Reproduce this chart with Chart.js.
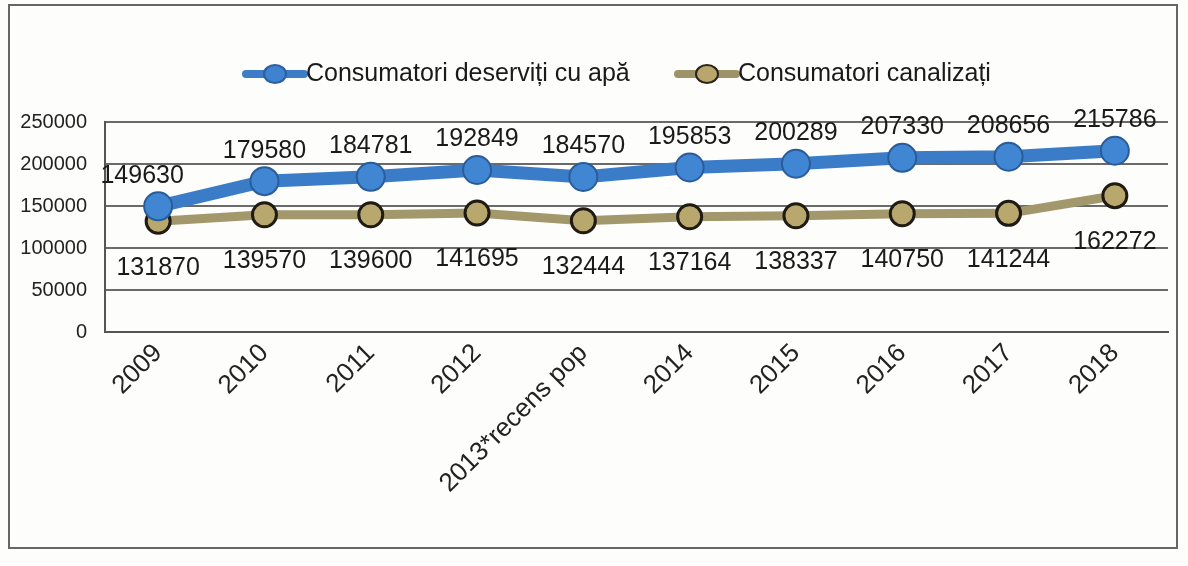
<!DOCTYPE html>
<html>
<head>
<meta charset="utf-8">
<script src="https://cdn.jsdelivr.net/npm/chart.js"></script>
<style>
  html, body { margin: 0; padding: 0; background: #fdfdfb; }
  #wrap { position: relative; width: 1188px; height: 566px; }
  #frame { position: absolute; left: 8px; top: 4px; width: 1170px; height: 545px;
           border: 2px solid #666; box-sizing: border-box; }
</style>
</head>
<body>
<div id="wrap">
  <div id="frame"></div>
  <canvas id="grafic" width="1188" height="566"></canvas>
</div>
<script>
// ---------- date ----------
const ani = ["2009", "2010", "2011", "2012", "2013*recens pop", "2014", "2015", "2016", "2017", "2018"];
const deserviti = [149630, 179580, 184781, 192849, 184570, 195853, 200289, 207330, 208656, 215786];
const canalizati = [131870, 139570, 139600, 141695, 132444, 137164, 138337, 140750, 141244, 162272];
const numeSerii = ["Consumatori deserviți cu apă", "Consumatori canalizați"];
const yTicks = [0, 50000, 100000, 150000, 200000, 250000];

const FONT = "'Liberation Sans', Arial, sans-serif";

// etichete cu valori (deasupra pentru albastru, dedesubt pentru bej)
const eticheteValori = {
  id: "eticheteValori",
  afterDatasetsDraw(chart) {
    const c = chart.ctx;
    c.save();
    c.font = "25px " + FONT;
    c.fillStyle = "#1a1a1a";
    c.textAlign = "center";
    chart.data.datasets.forEach((ds, i) => {
      const meta = chart.getDatasetMeta(i);
      meta.data.forEach((pt, j) => {
        if (i === 0) {
          c.textBaseline = "bottom";
          c.fillText(ds.data[j], pt.x - (j === 0 ? 16 : 0), pt.y - 18);
        } else {
          c.textBaseline = "top";
          c.fillText(ds.data[j], pt.x, pt.y + 34);
        }
      });
    });
    c.restore();
  }
};

// legenda desenata manual (linie groasa cu cerc)
const legendaSus = {
  id: "legendaSus",
  afterDraw(chart) {
    const c = chart.ctx;
    const items = [
      { x: 246, text: numeSerii[0], line: "#3d7cc6", fill: "#3f82cf", border: "#2b5f9e" },
      { x: 678, text: numeSerii[1], line: "#9e9268", fill: "#b8a66c", border: "#2a2418" }
    ];
    c.save();
    c.font = "25px " + FONT;
    c.textBaseline = "middle";
    items.forEach(it => {
      const y = 74;
      c.strokeStyle = it.line;
      c.lineWidth = 8;
      c.lineCap = "round";
      c.beginPath();
      c.moveTo(it.x, y);
      c.lineTo(it.x + 58, y);
      c.stroke();
      c.beginPath();
      c.ellipse(it.x + 29, y, 11, 9, 0, 0, Math.PI * 2);
      c.fillStyle = it.fill;
      c.fill();
      c.lineWidth = 2;
      c.strokeStyle = it.border;
      c.stroke();
      c.fillStyle = "#1a1a1a";
      c.textAlign = "left";
      c.fillText(it.text, it.x + 60, y);
    });
    c.restore();
  }
};

const ctx = document.getElementById("grafic").getContext("2d");

new Chart(ctx, {
  type: "line",
  data: {
    labels: ani,
    datasets: [
      {
        label: numeSerii[0],
        data: deserviti,
        borderColor: "#3b7cc8",
        borderWidth: 13,
        pointRadius: 14,
        pointBackgroundColor: "#4086d2",
        pointBorderColor: "#2a5c9a",
        pointBorderWidth: 2,
        tension: 0
      },
      {
        label: numeSerii[1],
        data: canalizati,
        borderColor: "#a3976c",
        borderWidth: 9,
        pointRadius: 12,
        pointBackgroundColor: "#b9a86e",
        pointBorderColor: "#1f1a12",
        pointBorderWidth: 3,
        tension: 0
      }
    ]
  },
  options: {
    responsive: false,
    animation: false,
    layout: { padding: { left: 10, right: 20, top: 122, bottom: 0 } },
    plugins: {
      legend: { display: false },
      tooltip: { enabled: false }
    },
    scales: {
      x: {
        offset: true,
        grid: { display: false, drawTicks: false },
        border: { color: "#555", width: 2 },
        ticks: {
          color: "#222",
          font: { size: 26, family: FONT },
          maxRotation: 45,
          minRotation: 45,
          padding: 6
        },
        afterFit(scale) { scale.height = 234; }
      },
      y: {
        min: 0,
        max: 250000,
        afterBuildTicks(scale) { scale.ticks = yTicks.map(v => ({ value: v })); },
        grid: { color: "#6a6a6a", lineWidth: 2, drawTicks: false },
        border: { color: "#555", width: 2 },
        ticks: {
          color: "#222",
          font: { size: 20, family: FONT },
          padding: 18,
          callback: v => String(v)
        },
        afterFit(scale) { scale.width = 95; }
      }
    }
  },
  plugins: [eticheteValori, legendaSus]
});
</script>
</body>
</html>
